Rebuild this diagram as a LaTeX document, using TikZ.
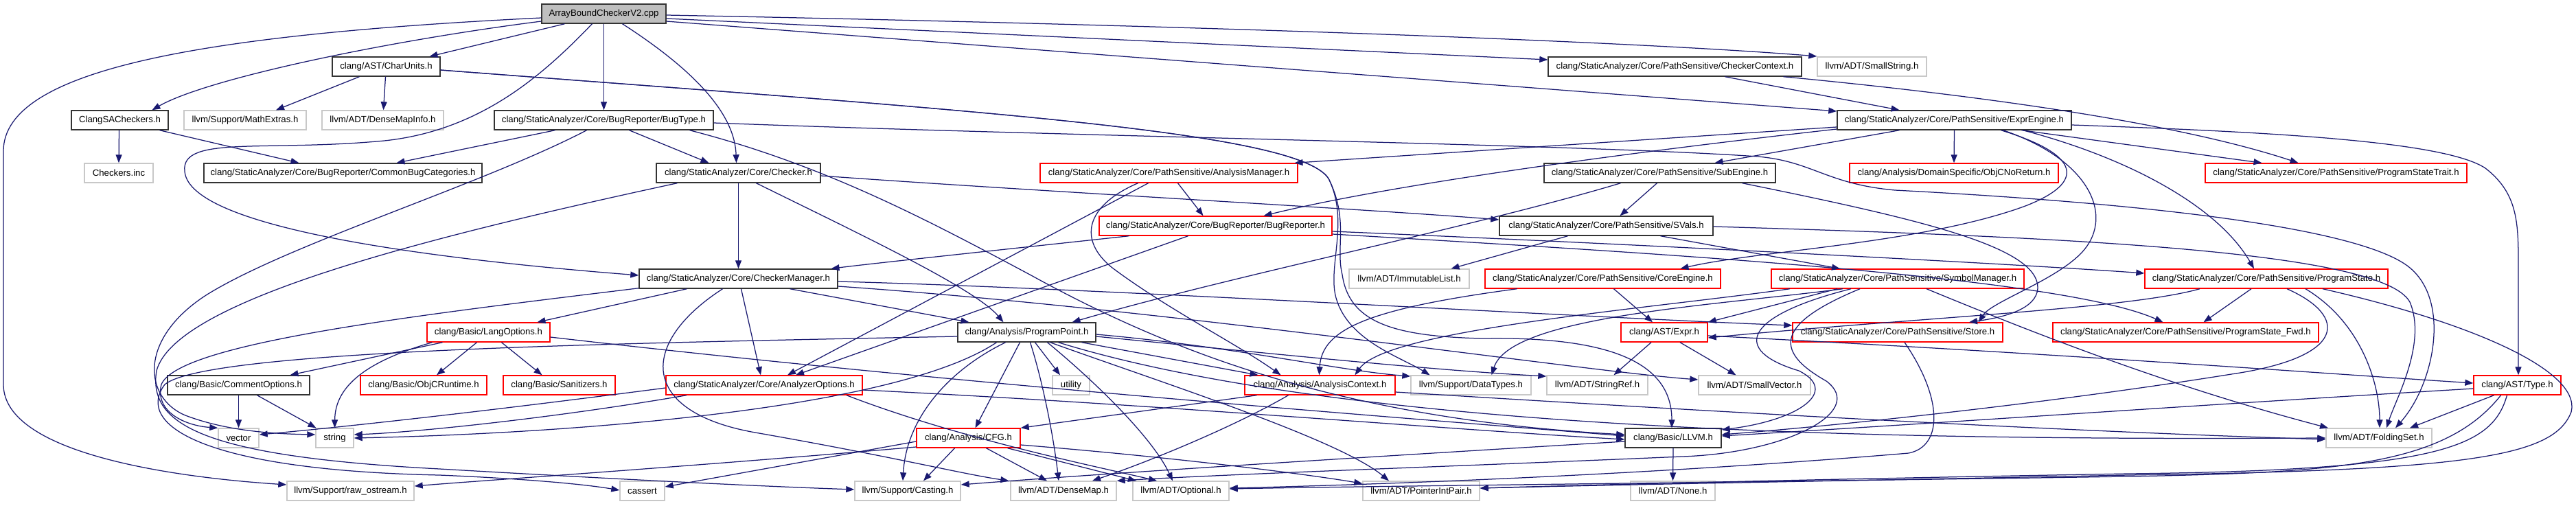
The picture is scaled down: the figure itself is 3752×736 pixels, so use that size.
\documentclass[tikz,border=0pt]{standalone}
\usepackage{fontspec}
\setmainfont{Liberation Sans}
\usetikzlibrary{arrows.meta}
\definecolor{edgec}{HTML}{191970}
\definecolor{redb}{HTML}{FF0000}
\definecolor{grayb}{HTML}{C8C8C8}
\definecolor{rootf}{HTML}{BFBFBF}
\begin{document}
\begin{tikzpicture}[x=1pt,y=-1pt,
 nb/.style={draw=black!80, line width=1.4pt, fill=white, minimum height=28pt, inner xsep=2pt, inner ysep=0pt, font=\fontsize{13.2}{15}\selectfont},
 nr/.style={nb, draw=redb},
 ng/.style={nb, draw=grayb},
 root/.style={nb, fill=rootf},
 e/.style={draw=edgec, line width=1.25pt, -{Triangle[length=12pt,width=9pt]}}]
\fill[white] (0,0) rectangle (3752,736);
\useasboundingbox (0,0) rectangle (3752,736);
% row 0
\node[root, minimum width=181pt] (A) at (879.5,20) {ArrayBoundCheckerV2.cpp};
% row 1
\node[nb, minimum width=157pt] (CU) at (562.5,97) {clang/AST/CharUnits.h};
\node[nb, minimum width=369pt] (CC) at (2439.5,97) {clang/StaticAnalyzer/Core/PathSensitive/CheckerContext.h};
\node[ng, minimum width=159pt] (SS) at (2726.5,97) {llvm/ADT/SmallString.h};
% row 2
\node[nb, minimum width=141pt] (CSA) at (174.5,175) {ClangSACheckers.h};
\node[ng, minimum width=178pt] (ME) at (357,175) {llvm/Support/MathExtras.h};
\node[ng, minimum width=177pt] (DMI) at (557.5,175) {llvm/ADT/DenseMapInfo.h};
\node[nb, minimum width=319pt] (BT) at (879.5,175) {clang/StaticAnalyzer/Core/BugReporter/BugType.h};
\node[nb, minimum width=341pt] (EE) at (2846.5,175) {clang/StaticAnalyzer/Core/PathSensitive/ExprEngine.h};
% row 3
\node[ng, minimum width=100pt] (CI) at (173,252) {Checkers.inc};
\node[nb, minimum width=405pt] (CBC) at (499.5,252) {clang/StaticAnalyzer/Core/BugReporter/CommonBugCategories.h};
\node[nb, minimum width=239pt] (CH) at (1075.5,252) {clang/StaticAnalyzer/Core/Checker.h};
\node[nr, minimum width=375pt] (AM) at (1702.5,252) {clang/StaticAnalyzer/Core/PathSensitive/AnalysisManager.h};
\node[nb, minimum width=337pt] (SE) at (2417.5,252) {clang/StaticAnalyzer/Core/PathSensitive/SubEngine.h};
\node[nr, minimum width=304pt] (ONR) at (2846,252) {clang/Analysis/DomainSpecific/ObjCNoReturn.h};
\node[nr, minimum width=381pt] (PST) at (3402.5,252) {clang/StaticAnalyzer/Core/PathSensitive/ProgramStateTrait.h};
% row 4
\node[nr, minimum width=339pt] (BR) at (1770.5,329) {clang/StaticAnalyzer/Core/BugReporter/BugReporter.h};
\node[nb, minimum width=311pt] (SV) at (2339.5,329) {clang/StaticAnalyzer/Core/PathSensitive/SVals.h};
% row 5
\node[nb, minimum width=289pt] (CM) at (1075.5,406) {clang/StaticAnalyzer/Core/CheckerManager.h};
\node[ng, minimum width=175pt] (IL) at (2052.5,406) {llvm/ADT/ImmutableList.h};
\node[nr, minimum width=343pt] (CE) at (2334.5,406) {clang/StaticAnalyzer/Core/PathSensitive/CoreEngine.h};
\node[nr, minimum width=368pt] (SM) at (2764,406) {clang/StaticAnalyzer/Core/PathSensitive/SymbolManager.h};
\node[nr, minimum width=354pt] (PS) at (3301,406) {clang/StaticAnalyzer/Core/PathSensitive/ProgramState.h};
% row 6
\node[nr, minimum width=179pt] (LO) at (711.5,484) {clang/Basic/LangOptions.h};
\node[nb, minimum width=201pt] (PP) at (1495.5,484) {clang/Analysis/ProgramPoint.h};
\node[nr, minimum width=126pt] (EX) at (2424,484) {clang/AST/Expr.h};
\node[nr, minimum width=306pt] (ST) at (2764,484) {clang/StaticAnalyzer/Core/PathSensitive/Store.h};
\node[nr, minimum width=387pt] (PSF) at (3183.5,484) {clang/StaticAnalyzer/Core/PathSensitive/ProgramState\_Fwd.h};
% row 7
\node[nb, minimum width=207pt] (CO) at (347.5,561) {clang/Basic/CommentOptions.h};
\node[nr, minimum width=184pt] (OR) at (617,561) {clang/Basic/ObjCRuntime.h};
\node[nr, minimum width=163pt] (SAN) at (814.5,561) {clang/Basic/Sanitizers.h};
\node[nr, minimum width=286pt] (AO) at (1113,561) {clang/StaticAnalyzer/Core/AnalyzerOptions.h};
\node[ng, minimum width=54pt] (UT) at (1560,561) {utility};
\node[nr, minimum width=219pt] (AC) at (1922.5,561) {clang/Analysis/AnalysisContext.h};
\node[ng, minimum width=175pt] (DT) at (2142.5,561) {llvm/Support/DataTypes.h};
\node[ng, minimum width=147pt] (SR) at (2326.5,561) {llvm/ADT/StringRef.h};
\node[ng, minimum width=163pt] (SVec) at (2555.5,561) {llvm/ADT/SmallVector.h};
\node[nr, minimum width=127pt] (TY) at (3666.5,561) {clang/AST/Type.h};
% row 8
\node[ng, minimum width=59pt] (VEC) at (347.5,638) {vector};
\node[ng, minimum width=55pt] (STR) at (487.5,638) {string};
\node[nr, minimum width=151pt] (CFG) at (1410.5,638) {clang/Analysis/CFG.h};
\node[nb, minimum width=140pt] (LLVM) at (2437,638) {clang/Basic/LLVM.h};
\node[ng, minimum width=154pt] (FS) at (3465,638) {llvm/ADT/FoldingSet.h};
% row 9
\node[ng, minimum width=185pt] (RO) at (510.5,715) {llvm/Support/raw\_ostream.h};
\node[ng, minimum width=65pt] (CA) at (935.5,715) {cassert};
\node[ng, minimum width=154pt] (CAS) at (1322,715) {llvm/Support/Casting.h};
\node[ng, minimum width=154pt] (DM) at (1549,715) {llvm/ADT/DenseMap.h};
\node[ng, minimum width=140pt] (OPT) at (1720,715) {llvm/ADT/Optional.h};
\node[ng, minimum width=170pt] (PIP) at (2070,715) {llvm/ADT/PointerIntPair.h};
\node[ng, minimum width=123pt] (NONE) at (2436.5,715) {llvm/ADT/None.h};

% ---- edges from A
\draw[e] ([xshift=-57pt]A.south) -- ([xshift=63pt]CU.north);
\draw[e] ([yshift=-11pt]A.west) .. controls (560,60) and (300,115) .. ([xshift=47pt]CSA.north);
\draw[e] ([yshift=-6pt]A.west) .. controls (300,50) and (5,100) .. (5,220) -- (5,560) .. controls (5,660) and (250,695) .. ([yshift=9pt]RO.west);
\draw[e] (A.south) -- (BT.north);
\draw[e] ([xshift=27pt]A.south) .. controls (1000,95) and (1070,160) .. ([xshift=-3pt]CH.north);
\draw[e] ([xshift=-17pt]A.south) .. controls (790,110) and (700,190) .. (560,205) .. controls (380,222) and (255,195) .. (270,255) .. controls (290,330) and (600,375) .. ([yshift=5pt]CM.west);
\draw[e] ([yshift=-7pt]A.east) -- ([yshift=10pt]CC.west);
\draw[e] ([yshift=-2pt]A.east) .. controls (1800,38) and (2400,62) .. ([yshift=15pt]SS.west);
\draw[e] ([yshift=-11pt]A.east) -- ([yshift=13pt]EE.west);
% ---- CU
\draw[e] ([xshift=-39pt]CU.south) -- ([xshift=45pt]ME.north);
\draw[e] ([xshift=-1pt]CU.south) -- ([xshift=1pt]DMI.north);
\draw[e] ([yshift=-5pt]CU.east) .. controls (1400,160) and (1890,190) .. (1935,260) .. controls (1965,320) and (1935,385) .. (1945,430) .. controls (1960,495) and (2040,520) .. ([xshift=-60pt]DT.north);
\draw[e] ([yshift=-5pt]CU.east) .. controls (1400,160) and (1890,190) .. (1935,260) .. controls (1965,320) and (1945,360) .. (1955,400) .. controls (1965,470) and (2030,490) .. (2160,493) .. controls (2350,490) and (2435,530) .. ([xshift=-2pt]LLVM.north);
% ---- CC
\draw[e] ([xshift=73pt]CC.south) -- ([xshift=-80pt]EE.north);
\draw[e] ([xshift=158pt]CC.south) .. controls (3000,150) and (3220,195) .. ([xshift=-55pt]PST.north);
% ---- CSA
\draw[e] ([xshift=-1pt]CSA.south) -- (CI.north);
\draw[e] ([xshift=58pt]CSA.south) -- ([xshift=-64pt]CBC.north);
% ---- BT
\draw[e] ([xshift=-71pt]BT.south) -- ([xshift=78pt]CBC.north);
\draw[e] ([xshift=37pt]BT.south) -- ([xshift=-43pt]CH.north);
\draw[e] ([xshift=-25pt]BT.south) .. controls (700,270) and (420,355) .. (300,430) .. controls (200,495) and (210,580) .. (270,605) .. controls (330,628) and (400,632) .. ([yshift=5pt]STR.west);
\draw[e] ([yshift=-4pt]BT.east) .. controls (1600,200) and (2300,210) .. (2560,228) .. controls (2640,235) and (2660,268) .. (2760,277) .. controls (3200,300) and (3450,340) .. (3510,390) .. controls (3570,440) and (3545,560) .. ([xshift=24pt]FS.north);
\draw[e] ([xshift=125pt]BT.south) .. controls (1200,240) and (1350,320) .. (1500,400) .. controls (1700,510) and (1950,610) .. ([yshift=5pt]LLVM.west);
% ---- CH
\draw[e] (CH.south) -- (CM.north);
\draw[e] ([yshift=-4pt]CH.east) .. controls (1500,278) and (2000,305) .. ([yshift=9pt]SV.west);
\draw[e] ([xshift=26pt]CH.south) .. controls (1250,340) and (1420,420) .. ([xshift=-34pt]PP.north);
\draw[e] ([xshift=-89pt]CH.south) .. controls (600,350) and (255,440) .. (228,540) .. controls (215,620) and (300,665) .. (640,683) .. controls (900,698) and (1100,708) .. ([yshift=2pt]CAS.west);
% ---- AM
\draw[e] ([xshift=13pt]AM.south) -- ([xshift=-18pt]BR.north);
\draw[e] ([xshift=-30pt]AM.south) -- ([xshift=34pt]AO.north);
\draw[e] ([xshift=-45pt]AM.south) .. controls (1580,300) and (1570,350) .. (1620,390) .. controls (1700,450) and (1800,500) .. ([xshift=-57pt]AC.north);
% ---- EE
\draw[e] ([yshift=-10pt]EE.west) -- ([xshift=183pt]AM.north);
\draw[e] ([yshift=-13pt]EE.west) .. controls (2300,230) and (2000,275) .. ([xshift=70pt]BR.north);
\draw[e] ([xshift=-80pt]EE.south) -- ([xshift=80pt]SE.north);
\draw[e] (EE.south) -- (ONR.north);
\draw[e] ([xshift=68pt]EE.south) .. controls (3030,225) and (3040,265) .. (2950,300) .. controls (2800,355) and (2560,365) .. ([xshift=113pt]CE.north);
\draw[e] ([xshift=71pt]EE.south) .. controls (3050,235) and (3080,320) .. (3030,370) .. controls (2990,410) and (2900,440) .. ([xshift=118pt]ST.north);
\draw[e] ([xshift=100pt]EE.south) .. controls (3100,230) and (3230,300) .. ([xshift=-18pt]PS.north);
\draw[e] ([xshift=98pt]EE.south) -- ([xshift=-108pt]PST.north);
\draw[e] ([yshift=-7pt]EE.east) .. controls (3300,192) and (3560,205) .. (3620,245) .. controls (3665,280) and (3668,320) .. (3668,380) -- ([xshift=1.5pt]TY.north);
% ---- SE
\draw[e] ([xshift=-4pt]SE.south) -- ([xshift=20pt]SV.north);
\draw[e] ([xshift=-57pt]SE.south) .. controls (2150,330) and (1800,400) .. ([xshift=66pt]PP.north);
\draw[e] ([xshift=120pt]SE.south) .. controls (2800,320) and (2970,360) .. (2968,420) .. controls (2966,450) and (2920,462) .. ([xshift=104pt]ST.north);
% ---- BR
\draw[e] ([xshift=-126pt]BR.south) .. controls (1400,370) and (1260,385) .. ([xshift=135pt]CM.north);
\draw[e] ([xshift=-40pt]BR.south) -- ([xshift=46pt]AO.north);
\draw[e] ([yshift=-8pt]BR.east) .. controls (2300,352) and (2900,382) .. ([yshift=8pt]PS.west);
\draw[e] ([yshift=-12pt]BR.east) .. controls (2400,368) and (3000,402) .. ([xshift=-33pt]PSF.north);
% ---- CM
\draw[e] ([xshift=-75pt]CM.south) -- ([xshift=71pt]LO.north);
\draw[e] ([xshift=4pt]CM.south) -- ([xshift=-5pt]AO.north);
\draw[e] ([xshift=75pt]CM.south) -- ([xshift=-84pt]PP.north);
\draw[e] ([yshift=1pt]CM.south west) .. controls (600,460) and (260,500) .. (235,560) .. controls (225,600) and (270,620) .. (VEC.north west);
\draw[e] ([xshift=-23pt]CM.south) .. controls (930,500) and (930,600) .. (1100,630) .. controls (1300,665) and (1400,690) .. ([xshift=-2pt]DM.north west);
\draw[e] ([yshift=-4pt]CM.east) .. controls (1600,420) and (2300,462) .. ([yshift=10pt]ST.west);
\draw[e] ([yshift=-11pt]CM.east) .. controls (1700,450) and (2300,540) .. ([yshift=8pt]SVec.west);
% ---- LO
\draw[e] ([xshift=-67pt]LO.south) -- ([xshift=75pt]CO.north);
\draw[e] ([xshift=-17pt]LO.south) -- ([xshift=19pt]OR.north);
\draw[e] ([xshift=19pt]LO.south) -- ([xshift=-25pt]SAN.north);
\draw[e] ([xshift=-82pt]LO.south) .. controls (520,530) and (488,570) .. (STR.north);
\draw[e] ([yshift=-7pt]LO.east) .. controls (1400,560) and (2000,605) .. ([yshift=3pt]LLVM.west);
% ---- CO
\draw[e] (CO.south) -- (VEC.north);
\draw[e] ([xshift=27pt]CO.south) -- ([xshift=-27pt]STR.north);
% ---- PP
\draw[e] ([xshift=80pt]PP.south) -- ([xshift=-90pt]AC.north);
\draw[e] ([xshift=-10pt]PP.south) -- ([xshift=10pt]CFG.north);
\draw[e] ([xshift=5pt]PP.south) .. controls (1520,560) and (1535,640) .. ([xshift=-7pt]DM.north);
\draw[e] ([xshift=12pt]PP.south) -- ([xshift=-16pt]UT.north);
\draw[e] ([xshift=30pt]PP.south) .. controls (1600,560) and (1680,640) .. ([xshift=-12pt]OPT.north);
\draw[e] ([xshift=34pt]PP.south) .. controls (1700,560) and (1950,640) .. ([xshift=-47pt]PIP.north);
\draw[e] ([xshift=46pt]PP.south) .. controls (2000,640) and (2900,640) .. (FS.west);
\draw[e] ([yshift=-6pt]PP.east) .. controls (1900,520) and (2100,540) .. ([yshift=13pt]SR.west);
\draw[e] ([yshift=-3pt]PP.east) .. controls (1800,505) and (1950,540) .. ([yshift=13pt]DT.west);
\draw[e] ([xshift=-31pt]PP.south) .. controls (1380,540) and (1320,610) .. ([xshift=-7pt]CAS.north);
\draw[e] ([yshift=-6pt]PP.west) .. controls (900,500) and (300,510) .. (240,560) .. controls (195,620) and (300,685) .. (640,692) .. controls (760,697) and (850,705) .. ([yshift=1pt]CA.west);
\draw[e] ([xshift=-44pt]PP.south) .. controls (1300,600) and (800,632) .. (STR.east);
% ---- AO
\draw[e] ([yshift=-4pt]AO.west) .. controls (700,600) and (500,622) .. ([yshift=5pt]VEC.east);
\draw[e] ([xshift=-113pt]AO.south) .. controls (800,610) and (600,630) .. ([yshift=5pt]STR.east);
\draw[e] ([yshift=-7pt]AO.east) .. controls (1700,590) and (2100,625) .. ([yshift=-2pt]LLVM.west);
\draw[e] ([xshift=120pt]AO.south) .. controls (1400,640) and (1600,680) .. ([xshift=-35pt]OPT.north);
% ---- AC
\draw[e] ([xshift=-92pt]AC.south) -- (CFG.north east);
\draw[e] ([xshift=-46pt]AC.south) .. controls (1800,620) and (1680,670) .. ([xshift=42pt]DM.north);
\draw[e] ([yshift=-10pt]AC.east) .. controls (2500,600) and (3000,628) .. ([yshift=-2pt]FS.west);
% ---- EX
\draw[e] ([xshift=-19pt]EX.south) -- ([xshift=24pt]SR.north);
\draw[e] ([xshift=23pt]EX.south) -- ([xshift=-27pt]SVec.north);
\draw[e] ([yshift=-5pt]EX.east) .. controls (3000,515) and (3400,545) .. ([yshift=3pt]TY.west);
% ---- ST
\draw[e] ([xshift=10pt]ST.south) .. controls (2830,580) and (2830,650) .. (2780,660) .. controls (2400,692) and (2000,706) .. ([yshift=4pt]OPT.east);
% ---- SM
\draw[e] ([xshift=-157pt]SM.south) .. controls (2400,450) and (2020,480) .. ([xshift=51pt]AC.north);
\draw[e] ([xshift=-88pt]SM.south) -- (EX.north east);
\draw[e] ([xshift=-80pt]SM.south) .. controls (2500,445) and (2200,460) .. ([xshift=30pt]DT.north);
\draw[e] ([xshift=-68pt]SM.south) .. controls (2540,460) and (2520,510) .. (2620,540) .. controls (2680,570) and (2620,612) .. ([yshift=12pt]LLVM.east);
\draw[e] ([xshift=-55pt]SM.south) .. controls (2590,470) and (2580,510) .. (2660,555) .. controls (2720,600) and (2600,660) .. (2450,665) .. controls (2100,680) and (1800,690) .. (DM.north east);
\draw[e] ([xshift=42pt]SM.south) .. controls (2950,480) and (3150,560) .. ([xshift=-74pt]FS.north);
% ---- SV
\draw[e] ([xshift=-56pt]SV.south) -- ([xshift=61pt]IL.north);
\draw[e] ([xshift=79pt]SV.south) -- ([xshift=-84pt]SM.north);
\draw[e] ([yshift=-1pt]SV.east) .. controls (3000,345) and (3470,365) .. (3510,440) .. controls (3535,500) and (3490,580) .. ([xshift=11pt]FS.north);
% ---- CE
\draw[e] ([xshift=-125pt]CE.south) .. controls (1990,450) and (1925,480) .. ([xshift=-1pt]AC.north);
\draw[e] ([xshift=16pt]CE.south) -- ([xshift=-17pt]EX.north);
% ---- PS
\draw[e] ([xshift=-22pt]PS.south) -- ([xshift=26pt]PSF.north);
\draw[e] ([xshift=-97pt]PS.south) .. controls (3100,450) and (2800,462) .. ([yshift=-8pt]EX.east);
\draw[e] ([xshift=30pt]PS.south) .. controls (3420,460) and (3420,520) .. (3250,545) .. controls (3000,585) and (2700,618) .. ([yshift=5pt]LLVM.east);
\draw[e] ([xshift=57pt]PS.south) .. controls (3440,470) and (3466,560) .. ([xshift=1pt]FS.north);
\draw[e] ([xshift=82pt]PS.south) .. controls (3600,470) and (3760,540) .. (3745,600) .. controls (3720,665) and (3600,685) .. (3100,692) .. controls (2700,700) and (2400,705) .. ([yshift=4pt]PIP.east);
% ---- TY
\draw[e] ([xshift=-34pt]TY.south) -- ([xshift=45pt]FS.north);
\draw[e] ([yshift=-5pt]TY.west) .. controls (3200,590) and (2800,618) .. ([yshift=3pt]LLVM.east);
\draw[e] ([xshift=-24pt]TY.south) .. controls (3560,680) and (3400,688) .. (3100,694) .. controls (2500,703) and (2000,708) .. ([yshift=3pt]OPT.east);
\draw[e] ([xshift=-15pt]TY.south) .. controls (3630,650) and (3560,685) .. (3100,690) .. controls (2700,697) and (2400,704) .. ([yshift=4pt]PIP.east);
% ---- LLVM
\draw[e] (LLVM.south) -- (NONE.north);
\draw[e] ([yshift=-5pt]LLVM.west) .. controls (2000,665) and (1600,690) .. ([yshift=9pt]CAS.east);
% ---- CFG
\draw[e] ([xshift=-20pt]CFG.south) -- ([xshift=23pt]CAS.north);
\draw[e] ([xshift=26pt]CFG.south) -- ([xshift=-24pt]DM.north);
\draw[e] ([xshift=57pt]CFG.south) -- ([xshift=-65pt]OPT.north);
\draw[e] ([yshift=-10pt]CFG.east) .. controls (1700,665) and (1900,690) .. ([yshift=-4pt]PIP.north west);
\draw[e] ([yshift=-5pt]CFG.west) -- ([yshift=6pt]CA.east);
\draw[e] ([yshift=-13pt]CFG.west) .. controls (1000,680) and (700,700) .. ([yshift=7pt]RO.east);
\end{tikzpicture}
\end{document}
